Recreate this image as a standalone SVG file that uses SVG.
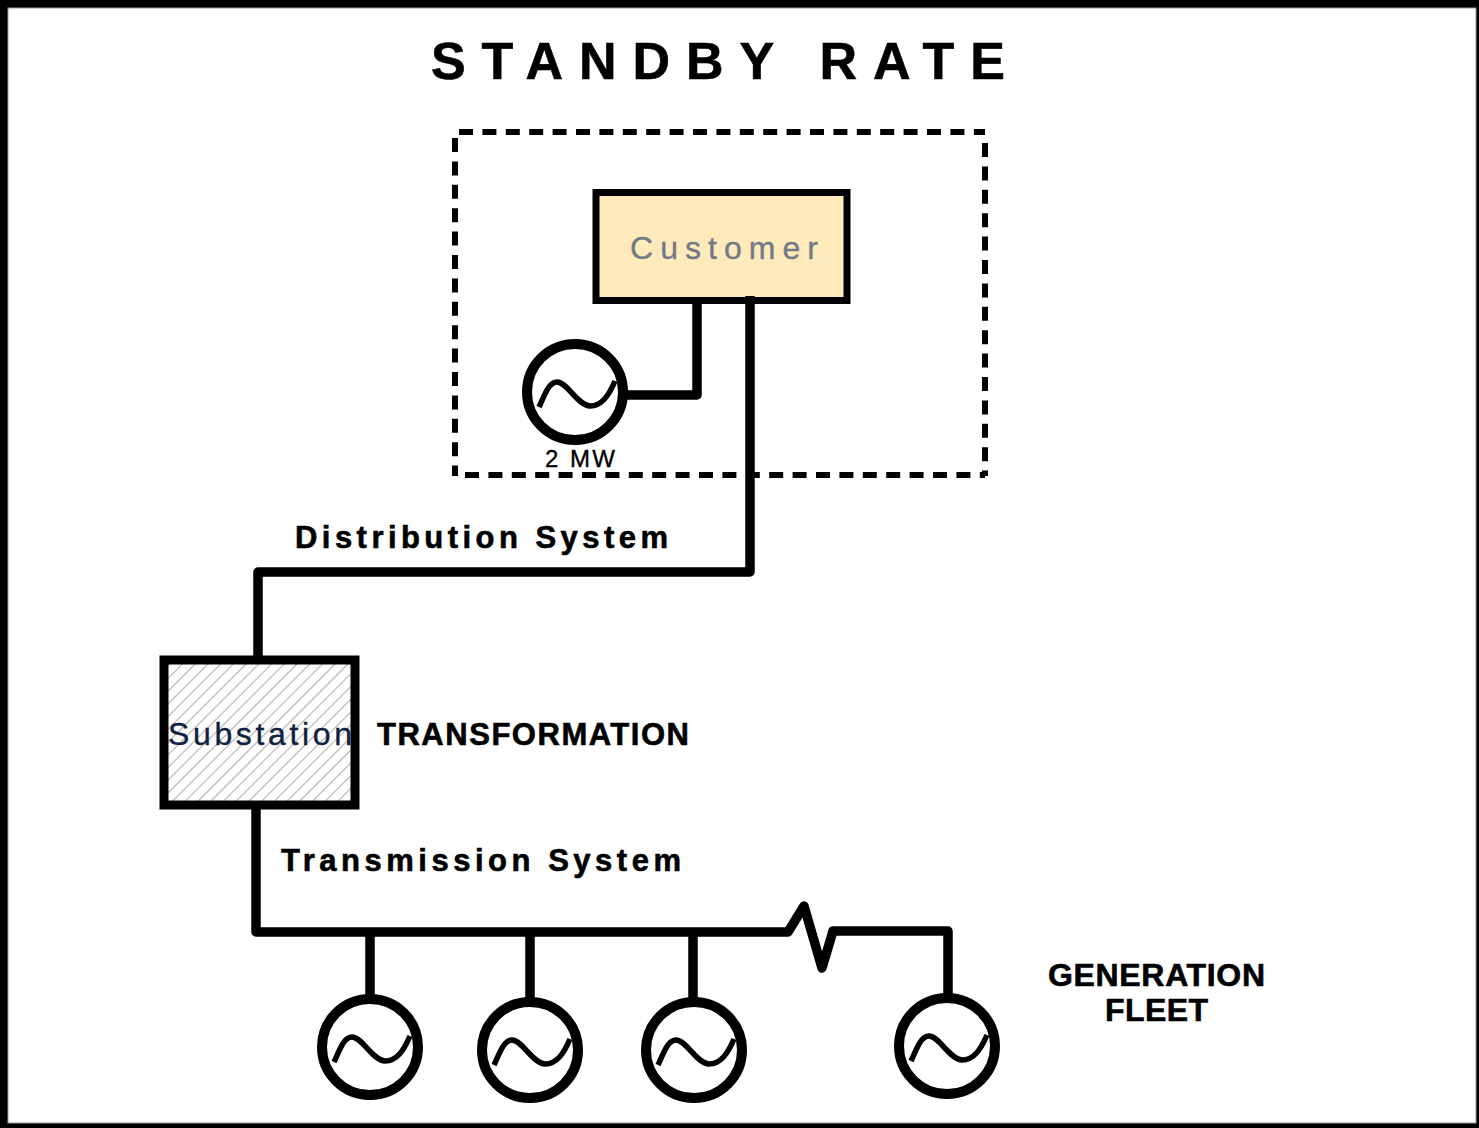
<svg xmlns="http://www.w3.org/2000/svg" width="1479" height="1128" viewBox="0 0 1479 1128">
<style>
text{font-family:"Liberation Sans",Arial,sans-serif;fill:#000;stroke:#000;stroke-width:.35}
.b{font-weight:bold;stroke-width:.6}
.w{fill:none;stroke:#000;stroke-width:9.5;stroke-linejoin:round}
.g{fill:#fff;stroke:#000;stroke-width:10}
.s{fill:none;stroke:#000;stroke-width:5.5;stroke-linecap:butt}
.d{fill:none;stroke:#000;stroke-width:6;stroke-dasharray:14 9.4}
</style>
<defs>
<pattern id="hatch" width="9" height="9" patternUnits="userSpaceOnUse" patternTransform="rotate(-45)">
<rect width="9" height="9" fill="#fff"/><line x1="0" y1="4.5" x2="9" y2="4.5" stroke="#b0b0b0" stroke-width="1.1"/>
</pattern>
<g id="gen"><circle r="48" class="g"/><path class="s" d="M-36 15C-30 2-26-10-18-10C-8-10 3 14 15 14C27 14 34 3 40-11"/></g>
</defs>
<rect width="1479" height="1128" fill="#000"/>
<rect x="8" y="8" width="1468" height="1115" fill="#fff" stroke="#999" stroke-width="1"/>
<text id="title" class="b" x="431" y="79" font-size="52" textLength="574" lengthAdjust="spacing">STANDBY RATE</text>
<g id="boundary"><path class="d" d="M459 132H985"/><path class="d" d="M985 143V476"/><path class="d" d="M465 475H985"/><path class="d" d="M455 138V476"/></g>
<g id="customer"><rect x="596" y="192.5" width="251" height="108" fill="#ffeabb" stroke="#000" stroke-width="7"/>
<text x="630" y="259" font-size="32" style="fill:#737a85;stroke:#737a85" textLength="188" lengthAdjust="spacing">Customer</text></g>
<g id="connectors">
<path class="w" d="M697 300V395H626"/>
<path class="w" d="M750 296V572H258V660"/>
<path class="w" d="M256 804V932H788L804 906L822 968L833 931H948V998"/>
<path class="w" d="M370 932V998M530 932V998M693 932V998"/>
</g>
<g id="gen-customer"><use href="#gen" x="575" y="392"/><text x="545" y="467" font-size="24" textLength="70" lengthAdjust="spacing">2 MW</text></g>
<g id="substation"><rect x="164" y="660" width="191" height="145" fill="url(#hatch)" stroke="#000" stroke-width="9"/>
<text x="168" y="745" font-size="32" style="fill:#102040;stroke:#102040" textLength="184" lengthAdjust="spacing">Substation</text></g>
<text id="lbl-dist" class="b" x="295" y="548" font-size="31" textLength="373" lengthAdjust="spacing">Distribution System</text>
<text id="lbl-trans" class="b" x="377" y="745" font-size="31" textLength="312" lengthAdjust="spacing">TRANSFORMATION</text>
<text id="lbl-tx" class="b" x="281" y="871" font-size="31" textLength="400" lengthAdjust="spacing">Transmission System</text>
<g id="gen1"><use href="#gen" x="370" y="1047"/></g>
<g id="gen2"><use href="#gen" x="530" y="1050"/></g>
<g id="gen3"><use href="#gen" x="694" y="1050"/></g>
<g id="gen4"><use href="#gen" x="947" y="1046"/></g>
<g id="fleet"><text class="b" x="1048" y="986" font-size="32" textLength="217" lengthAdjust="spacing">GENERATION</text><text class="b" x="1105" y="1021" font-size="32" textLength="103" lengthAdjust="spacing">FLEET</text></g>
</svg>
